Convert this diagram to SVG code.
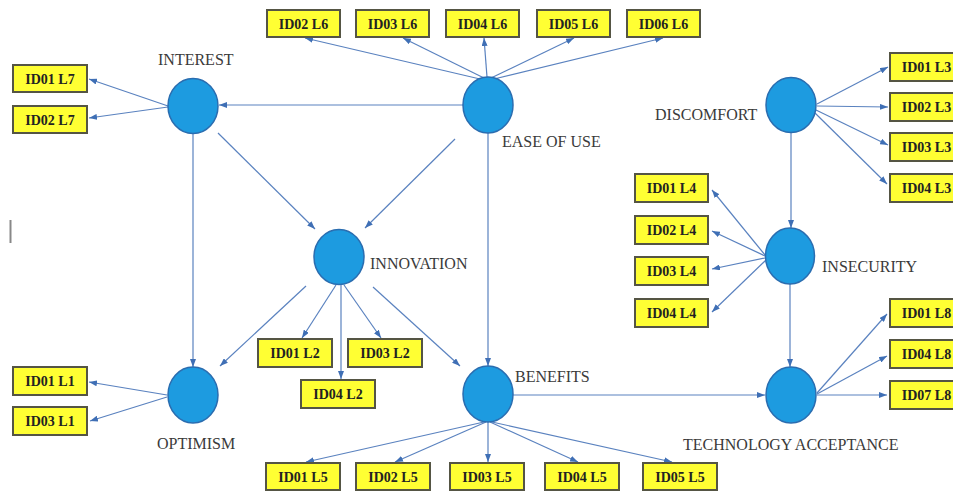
<svg xmlns="http://www.w3.org/2000/svg" width="953" height="491" viewBox="0 0 953 491">
<style>
.bg{fill:#ffffff}
.lv{fill:#1d9be0;stroke:#2a6db0;stroke-width:1.5}
.bx{fill:#ffff33;stroke:#555544;stroke-width:2}
.bt{font-family:"Liberation Serif",serif;font-weight:bold;font-size:14px;fill:#222;text-anchor:middle}
.lb{font-family:"Liberation Serif",serif;font-size:16px;fill:#3a3a3a}
.ed line{stroke:#5a82bf;stroke-width:1.2;marker-end:url(#ah)}
</style>
<defs>
<marker id="ah" markerUnits="userSpaceOnUse" markerWidth="8" markerHeight="6" refX="8" refY="3" orient="auto">
<path d="M0,0 L8,3 L0,6 z" fill="#3f6fb5"/>
</marker>
</defs>
<rect class="bg" x="0" y="0" width="953" height="491"/>
<line x1="10.5" y1="220" x2="10.5" y2="243" stroke="#888" stroke-width="2"/>

<g id="connectors" class="ed">
<line x1="463" y1="105" x2="219" y2="105"/>
<line x1="480" y1="79" x2="305" y2="38"/>
<line x1="484" y1="78" x2="403" y2="38"/>
<line x1="487" y1="77" x2="484" y2="38"/>
<line x1="491" y1="78" x2="574" y2="38"/>
<line x1="494" y1="79" x2="663" y2="38"/>
<line x1="168" y1="106" x2="89" y2="79"/>
<line x1="168" y1="107" x2="89" y2="118"/>
<line x1="193" y1="133" x2="193" y2="367"/>
<line x1="218" y1="133" x2="315" y2="229"/>
<line x1="455" y1="139" x2="365" y2="228"/>
<line x1="488" y1="133" x2="488" y2="366"/>
<line x1="306" y1="286" x2="220" y2="366"/>
<line x1="336" y1="285" x2="302" y2="338"/>
<line x1="341" y1="285" x2="341" y2="379"/>
<line x1="344" y1="285" x2="381" y2="338"/>
<line x1="373" y1="287" x2="460" y2="366"/>
<line x1="167" y1="395" x2="89" y2="382"/>
<line x1="167" y1="397" x2="90" y2="421"/>
<line x1="513" y1="395" x2="765" y2="395"/>
<line x1="484" y1="422" x2="306" y2="462"/>
<line x1="486" y1="422" x2="395" y2="462"/>
<line x1="488" y1="422" x2="488" y2="462"/>
<line x1="490" y1="422" x2="578" y2="462"/>
<line x1="492" y1="422" x2="672" y2="462"/>
<line x1="817" y1="104" x2="888" y2="67"/>
<line x1="817" y1="106" x2="888" y2="107"/>
<line x1="816" y1="110" x2="888" y2="145"/>
<line x1="815" y1="113" x2="887" y2="184"/>
<line x1="791" y1="133" x2="791" y2="228"/>
<line x1="765" y1="255" x2="712" y2="190"/>
<line x1="765" y1="256" x2="712" y2="231"/>
<line x1="765" y1="258" x2="712" y2="269"/>
<line x1="766" y1="260" x2="712" y2="312"/>
<line x1="790" y1="284" x2="790" y2="367"/>
<line x1="817" y1="393" x2="887" y2="314"/>
<line x1="817" y1="394" x2="887" y2="356"/>
<line x1="817" y1="395" x2="887" y2="395"/>
</g>

<g id="interest"><ellipse class="lv" cx="193" cy="106" rx="25" ry="27.5"/><text class="lb" x="158" y="65">INTEREST</text></g>
<g id="ease-of-use"><ellipse class="lv" cx="488" cy="105" rx="25" ry="28"/><text class="lb" x="502" y="147">EASE OF USE</text></g>
<g id="discomfort"><ellipse class="lv" cx="791" cy="105" rx="25" ry="27.5"/><text class="lb" x="655" y="120">DISCOMFORT</text></g>
<g id="innovation"><ellipse class="lv" cx="339" cy="257" rx="25" ry="27.5"/><text class="lb" x="370" y="269">INNOVATION</text></g>
<g id="insecurity"><ellipse class="lv" cx="790" cy="256" rx="24.5" ry="28"/><text class="lb" x="822" y="272">INSECURITY</text></g>
<g id="optimism"><ellipse class="lv" cx="193" cy="395" rx="25" ry="28"/><text class="lb" x="157" y="449">OPTIMISM</text></g>
<g id="benefits"><ellipse class="lv" cx="488" cy="394" rx="25" ry="28"/><text class="lb" x="515" y="382">BENEFITS</text></g>
<g id="technology-acceptance"><ellipse class="lv" cx="791" cy="395" rx="25" ry="28"/><text class="lb" x="683" y="450">TECHNOLOGY ACCEPTANCE</text></g>

<g id="id02-l6"><rect class="bx" x="267" y="10" width="73" height="27"/><text class="bt" x="303.5" y="28.5">ID02 L6</text></g>
<g id="id03-l6"><rect class="bx" x="356" y="10" width="73" height="27"/><text class="bt" x="392.5" y="28.5">ID03 L6</text></g>
<g id="id04-l6"><rect class="bx" x="446" y="10" width="73" height="27"/><text class="bt" x="482.5" y="28.5">ID04 L6</text></g>
<g id="id05-l6"><rect class="bx" x="537" y="10" width="73" height="27"/><text class="bt" x="573.5" y="28.5">ID05 L6</text></g>
<g id="id06-l6"><rect class="bx" x="627" y="10" width="73" height="27"/><text class="bt" x="663.5" y="28.5">ID06 L6</text></g>

<g id="id01-l7"><rect class="bx" x="13" y="65" width="74" height="27"/><text class="bt" x="50" y="83.5">ID01 L7</text></g>
<g id="id02-l7"><rect class="bx" x="13" y="106" width="74" height="27"/><text class="bt" x="50" y="124.5">ID02 L7</text></g>

<g id="id01-l3"><rect class="bx" x="890" y="53" width="73" height="28"/><text class="bt" x="926.5" y="72">ID01 L3</text></g>
<g id="id02-l3"><rect class="bx" x="890" y="93" width="73" height="28"/><text class="bt" x="926.5" y="112">ID02 L3</text></g>
<g id="id03-l3"><rect class="bx" x="890" y="133" width="73" height="28"/><text class="bt" x="926.5" y="152">ID03 L3</text></g>
<g id="id04-l3"><rect class="bx" x="890" y="174" width="73" height="28"/><text class="bt" x="926.5" y="193">ID04 L3</text></g>

<g id="id01-l4"><rect class="bx" x="635" y="174" width="73" height="28"/><text class="bt" x="671.5" y="193">ID01 L4</text></g>
<g id="id02-l4"><rect class="bx" x="635" y="216" width="73" height="28"/><text class="bt" x="671.5" y="235">ID02 L4</text></g>
<g id="id03-l4"><rect class="bx" x="635" y="257" width="73" height="28"/><text class="bt" x="671.5" y="276">ID03 L4</text></g>
<g id="id04-l4"><rect class="bx" x="635" y="299" width="73" height="28"/><text class="bt" x="671.5" y="318">ID04 L4</text></g>

<g id="id01-l8"><rect class="bx" x="890" y="299" width="73" height="28"/><text class="bt" x="926.5" y="318">ID01 L8</text></g>
<g id="id04-l8"><rect class="bx" x="890" y="340" width="73" height="28"/><text class="bt" x="926.5" y="359">ID04 L8</text></g>
<g id="id07-l8"><rect class="bx" x="890" y="381" width="73" height="28"/><text class="bt" x="926.5" y="400">ID07 L8</text></g>

<g id="id01-l1"><rect class="bx" x="13" y="367" width="74" height="28"/><text class="bt" x="50" y="386">ID01 L1</text></g>
<g id="id03-l1"><rect class="bx" x="13" y="407" width="74" height="28"/><text class="bt" x="50" y="426">ID03 L1</text></g>

<g id="id01-l2"><rect class="bx" x="258" y="339" width="74" height="28"/><text class="bt" x="295" y="358">ID01 L2</text></g>
<g id="id03-l2"><rect class="bx" x="348" y="339" width="74" height="28"/><text class="bt" x="385" y="358">ID03 L2</text></g>
<g id="id04-l2"><rect class="bx" x="301" y="380" width="74" height="28"/><text class="bt" x="338" y="399">ID04 L2</text></g>

<g id="id01-l5"><rect class="bx" x="266" y="463" width="74" height="27"/><text class="bt" x="303" y="481.5">ID01 L5</text></g>
<g id="id02-l5"><rect class="bx" x="356" y="463" width="74" height="27"/><text class="bt" x="393" y="481.5">ID02 L5</text></g>
<g id="id03-l5"><rect class="bx" x="450" y="463" width="74" height="27"/><text class="bt" x="487" y="481.5">ID03 L5</text></g>
<g id="id04-l5"><rect class="bx" x="545" y="463" width="74" height="27"/><text class="bt" x="582" y="481.5">ID04 L5</text></g>
<g id="id05-l5"><rect class="bx" x="643" y="463" width="74" height="27"/><text class="bt" x="680" y="481.5">ID05 L5</text></g>
</svg>
